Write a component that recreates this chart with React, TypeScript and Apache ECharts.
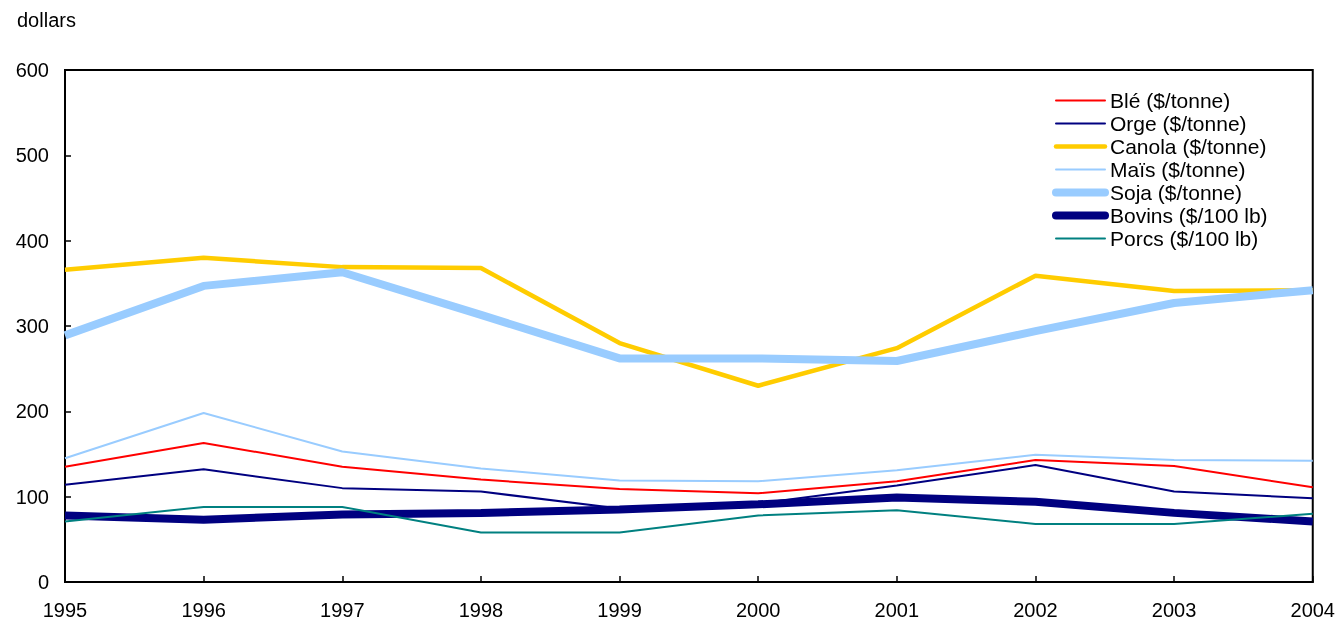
import React, { useEffect, useRef } from "react";
import * as echarts from "echarts";

const years = ["1995", "1996", "1997", "1998", "1999", "2000", "2001", "2002", "2003", "2004"];
const ble = [135, 163, 135, 120, 109, 104, 118, 143, 136, 111];
const orge = [114, 132, 110, 106, 86, 92, 113, 137, 106, 98];
const canola = [366, 380, 369, 368, 280, 230, 274, 359, 341, 342];
const mais = [145, 198, 153, 133, 119, 118, 131, 149, 143, 142];
const soja = [289, 347, 363, 313, 262, 262, 259, 294, 327, 342];
const bovins = [78, 73, 79, 81, 85, 91, 99, 94, 81, 71];
const porcs = [71, 88, 88, 58, 58, 78, 84, 68, 68, 80];

const seriesDefs = [
  { name: "Blé ($/tonne)", data: ble, color: "#ff0000", width: 2 },
  { name: "Orge ($/tonne)", data: orge, color: "#000080", width: 2 },
  { name: "Canola ($/tonne)", data: canola, color: "#ffcc00", width: 4.5 },
  { name: "Maïs ($/tonne)", data: mais, color: "#99ccff", width: 2 },
  { name: "Soja ($/tonne)", data: soja, color: "#99ccff", width: 8 },
  { name: "Bovins ($/100 lb)", data: bovins, color: "#000080", width: 8 },
  { name: "Porcs ($/100 lb)", data: porcs, color: "#008080", width: 2 },
];

export default function App() {
  const ref = useRef<HTMLDivElement>(null);
  useEffect(() => {
    if (!ref.current) return;
    const chart = echarts.init(ref.current, undefined, { renderer: "svg" });
    const font = "Liberation Sans, Arial, sans-serif";
    chart.setOption({
      animation: false,
      textStyle: { fontFamily: font },
      grid: {
        left: 65,
        right: 25,
        top: 70,
        bottom: 41,
        show: true,
        borderColor: "#000",
        borderWidth: 2,
        backgroundColor: "transparent",
      },
      graphic: [
        {
          type: "text",
          left: 17,
          top: 10,
          style: { text: "dollars", fontSize: 20, fontFamily: font, fill: "#000" },
        },
      ],
      legend: {
        orient: "vertical",
        left: 1052,
        top: 90,
        padding: 0,
        itemWidth: 49,
        itemHeight: 14,
        itemGap: 2,
        textStyle: { fontSize: 21, fontFamily: font, color: "#000" },
        data: seriesDefs.map((s) => ({
          name: s.name,
          itemStyle: { color: "rgba(0,0,0,0)", borderColor: "rgba(0,0,0,0)", borderWidth: 0, opacity: 0 },
          lineStyle: { color: s.color, width: s.width, cap: "round" },
        })),
        selectedMode: false,
      },
      xAxis: {
        type: "category",
        data: years,
        boundaryGap: false,
        axisLine: { lineStyle: { color: "#000", width: 2 } },
        axisTick: { inside: true, length: 6, lineStyle: { color: "#000", width: 1.5 } },
        axisLabel: { color: "#000", fontSize: 20, margin: 18, fontFamily: font },
        splitLine: { show: false },
      },
      yAxis: {
        type: "value",
        min: 0,
        max: 600,
        interval: 100,
        axisLine: { show: true, lineStyle: { color: "#000", width: 2 } },
        axisTick: { show: true, inside: true, length: 6, lineStyle: { color: "#000", width: 1.5 } },
        axisLabel: { color: "#000", fontSize: 20, margin: 16, fontFamily: font },
        splitLine: { show: false },
      },
      series: seriesDefs.map((s) => ({
        name: s.name,
        type: "line",
        data: s.data,
        symbol: "none",
        color: s.color,
        lineStyle: { color: s.color, width: s.width },
        itemStyle: { color: s.color },
      })),
    });
    return () => chart.dispose();
  }, []);
  return (
    <div
      ref={ref}
      style={{ position: "fixed", left: 0, top: 0, width: 1338, height: 623 }}
    />
  );
}
